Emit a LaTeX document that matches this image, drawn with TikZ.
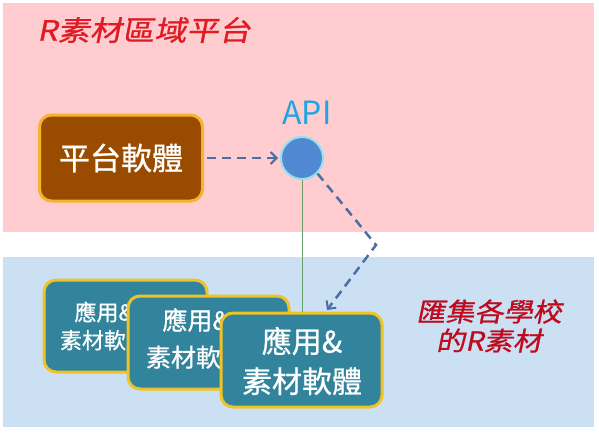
\documentclass[tikz,border=0pt]{standalone}
\usepackage{fontspec}
\newfontfamily\cjk[FakeBold=0.8]{Noto Sans CJK TC}
\newfontfamily\cjklight{Noto Sans CJK TC}
\newfontfamily\cjktitle[FakeSlant=0.2,FakeStretch=1.15,FakeBold=0.8]{Noto Sans CJK TC}
\newfontfamily\cjkside[FakeSlant=0.2,FakeStretch=1.12,FakeBold=0.8]{Noto Sans CJK TC}
\usetikzlibrary{arrows.meta}
\definecolor{pinkbg}{HTML}{FFCCCF}
\definecolor{bluebg}{HTML}{CBE0F2}
\definecolor{titlered}{HTML}{E01B24}
\definecolor{sidered}{HTML}{BE0A1C}
\definecolor{brownfill}{HTML}{994C00}
\definecolor{goldline}{HTML}{F2B52B}
\definecolor{tealfill}{HTML}{31849B}
\definecolor{tealline}{HTML}{EFC326}
\definecolor{apifill}{HTML}{5088D2}
\definecolor{apiline}{HTML}{90E2F2}
\definecolor{apitext}{HTML}{1FA6E0}
\definecolor{arrowblue}{HTML}{4A6FA5}
\definecolor{greenline}{HTML}{6AA06A}
\begin{document}
\begin{tikzpicture}[x=1pt,y=-1pt,
  platbox/.style={draw=goldline, fill=brownfill, line width=3pt, rounded corners=12pt,
    minimum width=163pt, minimum height=86pt, text=white},
  appbox/.style={draw=tealline, fill=tealfill, line width=3pt, rounded corners=12pt, text=white},
  apptext/.style={text=white, align=center, inner sep=0pt},
  flow/.style={draw=arrowblue, line width=2.5pt, dash pattern=on 9pt off 6pt,
    -{Straight Barb[length=6pt,width=12pt,line width=2pt]}}
]
\useasboundingbox (0,0) rectangle (599,434);
\fill[white] (0,0) rectangle (599,434);
\fill[pinkbg] (3,3) rectangle (594,232);
\fill[bluebg] (3,257) rectangle (594,427);

\node[text=titlered, inner sep=0pt, font={\cjktitle\fontsize{28}{32}\selectfont}] (title) at (144,30) {R素材區域平台};

\node[platbox, font={\cjk\fontsize{31}{36}\selectfont}] (plat) at (121,158) {平台軟體};

\node[circle, draw=apiline, fill=apifill, line width=2pt, minimum size=42pt, inner sep=0pt] (api) at (302,158) {};
\node[text=apitext, inner sep=0pt, font={\cjklight\fontsize{32}{36}\selectfont}] (apilbl) at (307,113) {API};

% application boxes
\node[appbox, minimum width=163pt, minimum height=92pt] (app1) at (125.5,326) {};
\node[apptext, font={\cjk\fontsize{22}{28}\selectfont}] (app1t) at (104,326) {應用\&\\素材軟體};
\node[appbox, minimum width=161pt, minimum height=93pt] (app2) at (208.5,342.5) {};
\node[apptext, font={\cjk\fontsize{25}{37}\selectfont}] (app2t) at (196,338.5) {應用\&\\素材軟體};
\node[appbox, minimum width=161pt, minimum height=94pt] (app3) at (301.5,360) {};
\node[apptext, font={\cjk\fontsize{30}{40}\selectfont}] (app3t) at (302,361) {應用\&\\素材軟體};

\node[text=sidered, align=center, inner sep=0pt, font={\cjkside\fontsize{26}{29}\selectfont}] (side) at (489,326)
  {匯集各學校\\的R素材};

% connectors
\draw[greenline, line width=1pt] (api.south) -- (api.south |- app3.north);
\draw[flow] (plat.east) ++(3pt,0) -- ([xshift=-2pt]api.west);
\coordinate (bend) at (376,245);
\coordinate (tip) at (327,310);
\draw[flow] (api.south east) -- (bend) -- (tip);
\end{tikzpicture}
\end{document}
